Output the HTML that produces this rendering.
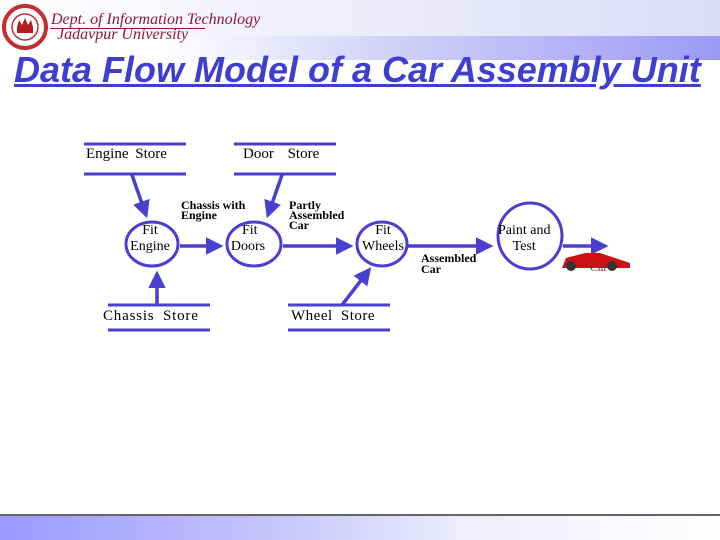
<!DOCTYPE html>
<html><head><style>
body{margin:0;width:720px;height:540px;position:relative;background:#fff;overflow:hidden;font-family:"Liberation Serif",serif}
.t{position:absolute;white-space:nowrap}
</style></head><body>
<div style="position:absolute;left:0;top:0;width:720px;height:36px;background:linear-gradient(90deg,#fff 0%,#f0f0fb 40%,#dcdcf8 100%)"></div>
<div style="position:absolute;left:0;top:36px;width:720px;height:24px;background:linear-gradient(90deg,#fff 0%,#fff 22%,#d0d0f8 55%,#9a9af5 100%)"></div>
<svg width="50" height="50" style="position:absolute;left:1px;top:3px"><circle cx="24" cy="24" r="21" fill="#fff" stroke="#c03030" stroke-width="4"/><circle cx="24" cy="24" r="13" fill="#fff" stroke="#c03030" stroke-width="1.5"/><rect x="16" y="24" width="16" height="6" fill="#b02020"/><path d="M16 24 L18 17 L21 22 L24 15 L27 22 L30 17 L32 24Z" fill="#b02020"/></svg>
<div class="t" style="left:51px;top:12px;font-style:italic;font-size:16px;color:#8a1a3a;line-height:16px">Dept. of Information Technology</div>
<div style="position:absolute;left:50px;top:28px;width:155px;height:1px;background:#8a1a3a"></div>
<div class="t" style="left:57px;top:27px;font-style:italic;font-size:16px;color:#8a1a3a;line-height:16px">Jadavpur University</div>
<div class="t" style="left:14px;top:50px;font-family:'Liberation Sans',sans-serif;font-weight:bold;font-style:italic;font-size:36px;color:#3f3fcf;text-decoration:underline;line-height:40px;letter-spacing:0px">Data Flow Model of a Car Assembly Unit</div>

<svg width="720" height="540" style="position:absolute;left:0;top:0">
<defs><marker id="a" markerWidth="5" markerHeight="5" refX="4" refY="2.5" orient="auto" markerUnits="strokeWidth"><path d="M0,0 L5,2.5 L0,5Z" fill="#4b3fd0"/></marker></defs>
<g stroke="#4b3fd0" stroke-width="3" fill="none">
<line x1="84" y1="144" x2="186" y2="144"/><line x1="84" y1="174" x2="186" y2="174"/>
<line x1="234" y1="144" x2="336" y2="144"/><line x1="234" y1="174" x2="336" y2="174"/>
<line x1="108" y1="305" x2="210" y2="305"/><line x1="108" y1="330" x2="210" y2="330"/>
<line x1="288" y1="305" x2="390" y2="305"/><line x1="288" y1="330" x2="390" y2="330"/>
<ellipse cx="152" cy="244" rx="26" ry="22"/>
<ellipse cx="254" cy="244" rx="27" ry="22"/>
<ellipse cx="382" cy="244" rx="25" ry="22"/>
<ellipse cx="530" cy="236" rx="32" ry="33"/>
<g stroke-width="3.5" marker-end="url(#a)">
<line x1="180" y1="246" x2="220" y2="246"/>
<line x1="283" y1="246" x2="350" y2="246"/>
<line x1="408" y1="246" x2="490" y2="246"/>
<line x1="563" y1="246" x2="605" y2="246"/>
<line x1="132" y1="175" x2="146" y2="215"/>
<line x1="282" y1="175" x2="268" y2="215"/>
<line x1="157" y1="305" x2="157" y2="274"/>
<line x1="342" y1="305" x2="369" y2="270"/>
</g></g>
<g fill="#d01010"><path d="M562 268 L566 258 L585 253 L600 253 L618 259 L630 263 L630 268Z"/></g>
<circle cx="571" cy="266" r="5" fill="#333"/><circle cx="612" cy="266" r="5" fill="#333"/>
</svg>
<div style="font-size:15px;color:#000">
<div class="t" style="left:86px;top:146px;word-spacing:3px">Engine Store</div>
<div class="t" style="left:243px;top:146px;word-spacing:10px">Door Store</div>
<div class="t" style="left:103px;top:308px;letter-spacing:0.8px;word-spacing:4px">Chassis Store</div>
<div class="t" style="left:291px;top:308px;letter-spacing:0.5px;word-spacing:4px">Wheel Store</div>
<div class="t" style="left:125px;top:223px;font-size:14px;line-height:16px;text-align:center;width:50px">Fit<br>Engine</div>
<div class="t" style="left:229px;top:223px;font-size:14px;line-height:16px;text-align:center;width:38px">&nbsp;Fit<br>Doors</div>
<div class="t" style="left:361px;top:223px;font-size:14px;line-height:16px;text-align:center;width:44px">Fit<br>Wheels</div>
<div class="t" style="left:498px;top:223px;font-size:14px;line-height:16px;text-align:center">Paint and<br>Test</div>
<div class="t" style="left:181px;top:200px;font-size:12px;line-height:10px;font-weight:bold">Chassis with<br>Engine</div>
<div class="t" style="left:289px;top:200px;font-size:12px;line-height:10px;font-weight:bold">Partly<br>Assembled<br>Car</div>
<div class="t" style="left:421px;top:253px;font-size:12px;line-height:11px;font-weight:bold">Assembled<br>Car</div>
<div class="t" style="left:590px;top:260px;font-size:12px;color:#444">Car</div>
</div>
<div style="position:absolute;left:0;top:514px;width:720px;height:2px;background:#666"></div>
<div style="position:absolute;left:0;top:516px;width:720px;height:24px;background:linear-gradient(90deg,#9999ff 0%,#c8c8fb 40%,#eeeefc 65%,#fff 100%)"></div>
</body></html>
